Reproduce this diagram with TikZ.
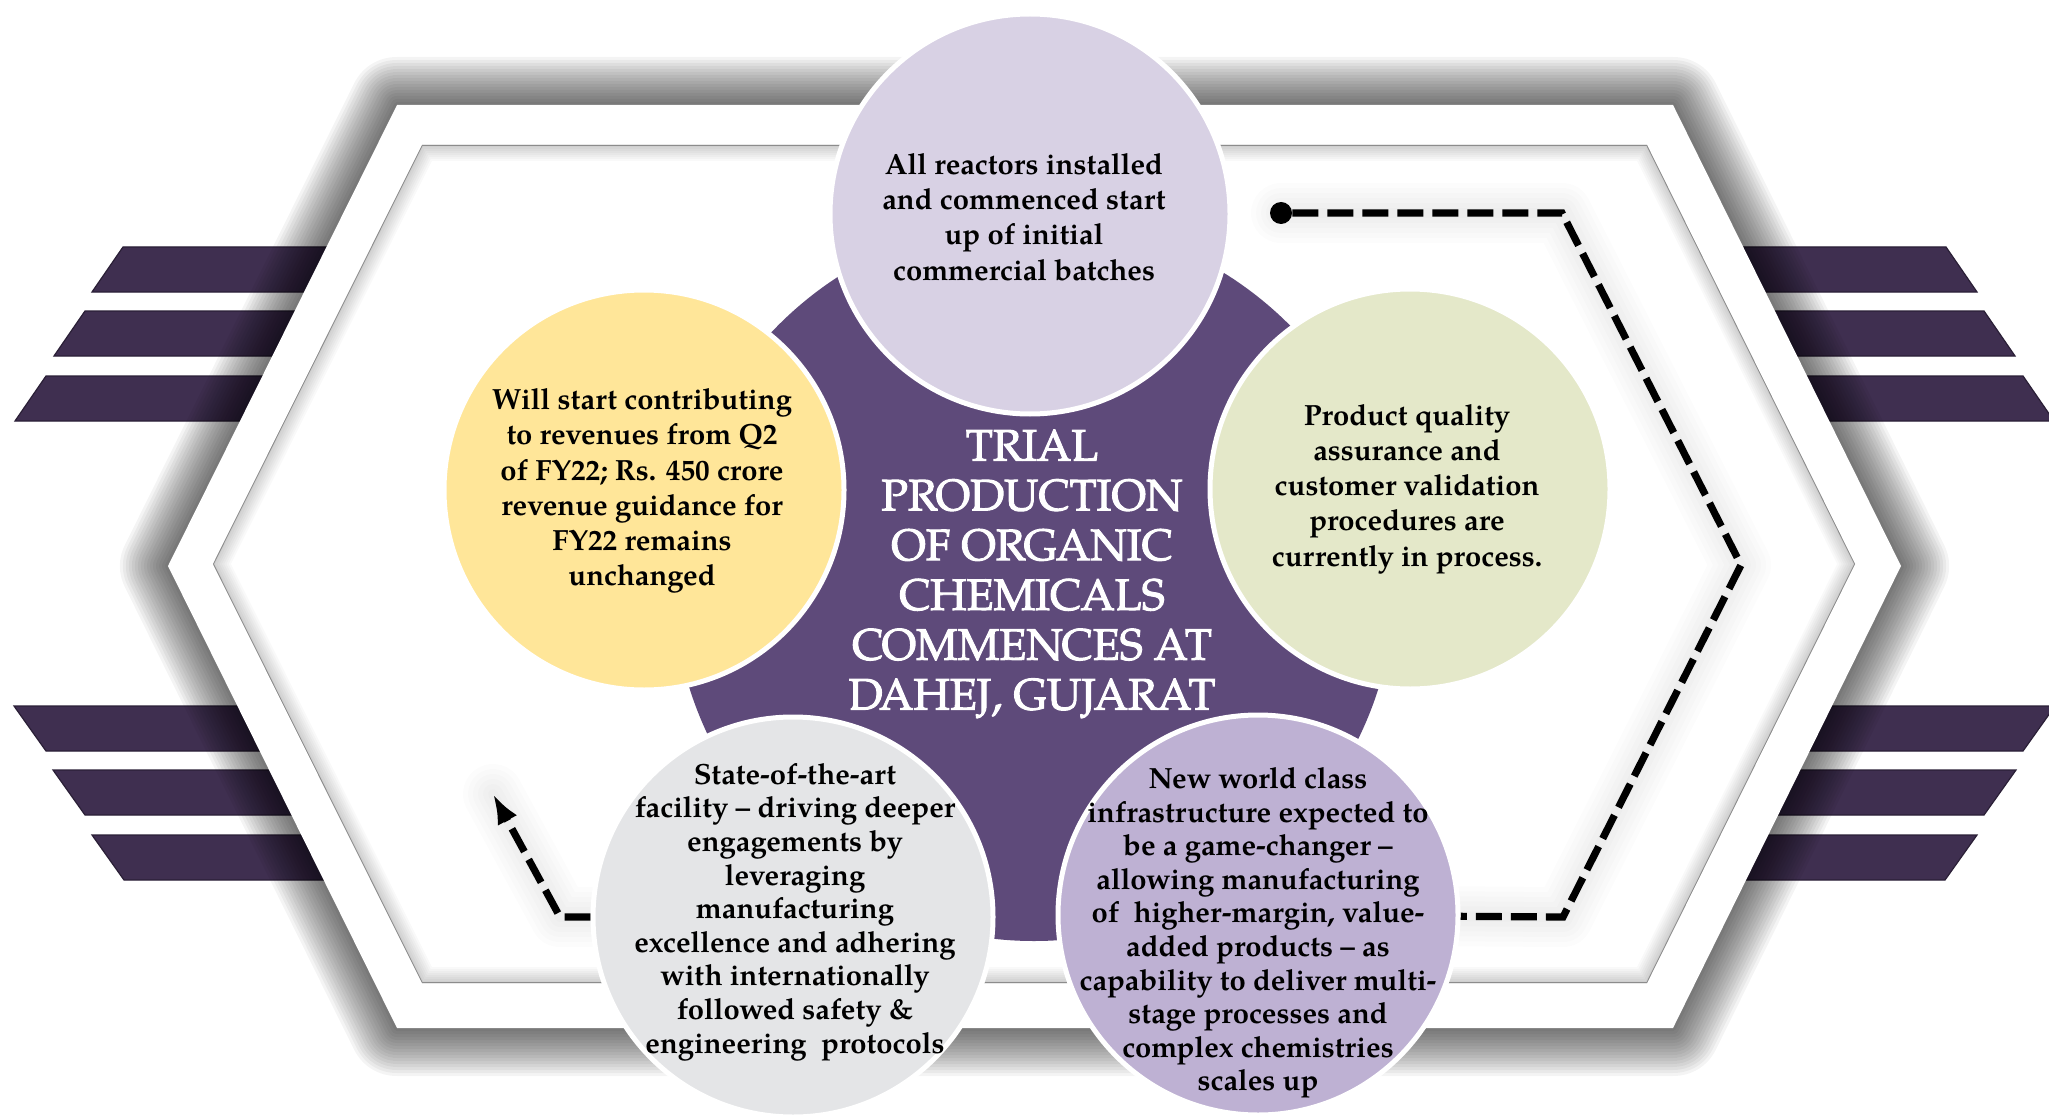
\documentclass[tikz,border=0pt]{standalone}
\usepackage{fontspec}
\setmainfont{TeX Gyre Pagella}
\newfontfamily\hubfont{TeX Gyre Pagella}[FakeBold=2.2]
\usetikzlibrary{arrows.meta}
\pgfdeclarelayer{bg}
\pgfdeclarelayer{mid}
\pgfsetlayers{bg,mid,main}
\definecolor{cpurple}{RGB}{94,74,122}
\definecolor{ctop}{RGB}{216,209,228}
\definecolor{cright}{RGB}{228,232,201}
\definecolor{cleft}{RGB}{255,230,153}
\definecolor{cbl}{RGB}{228,229,231}
\definecolor{cbr}{RGB}{190,177,211}
\definecolor{cstripe}{RGB}{63,47,80}
\definecolor{cstripeedge}{RGB}{42,31,54}
\tikzset{
  bubble/.style={circle, draw=white, line width=2.5pt, minimum size=200pt, inner sep=0pt},
  btext/.style={align=center, font=\bfseries\fontsize{14.6}{17.6}\selectfont, text=black, inner sep=0pt},
  btextt/.style={align=center, font=\bfseries\fontsize{14.6}{16.8}\selectfont, text=black, inner sep=0pt},
  hubtext/.style={align=center, font=\hubfont\fontsize{22}{24.9}\selectfont, text=white, inner sep=0pt},
  stripe/.style={fill=cstripe, draw=cstripeedge, line width=0.6pt},
  dashconn/.style={black, line width=3.6pt, dash pattern=on 13pt off 4.5pt},
  glow/.style={black, opacity=0.012, line join=round, line cap=round},
}
\begin{document}
\begin{tikzpicture}[x=0.5pt,y=-0.5pt]
\useasboundingbox (0,0) rectangle (2049,1118);

% ---------- nodes ----------
\node[circle, fill=cpurple, minimum size=361pt, inner sep=0pt] (hub) at (1034,580) {};
\node[hubtext] (hubt) at (1032,574) {TRIAL\\PRODUCTION\\OF ORGANIC\\CHEMICALS\\COMMENCES AT\\DAHEJ, GUJARAT};

\node[bubble, fill=ctop] (top) at (1030,214) {};
\node[btext] (topt) at (1024,217) {All reactors installed\\and commenced start\\up of initial\\commercial batches};

\node[bubble, fill=cleft] (left) at (644,490) {};
\node[btext] (leftt) at (642,491) {Will start contributing\\to revenues from Q2\\of FY22; Rs. 450 crore\\revenue guidance for\\FY22 remains\\unchanged};

\node[bubble, fill=cright] (right) at (1410,489) {};
\node[btext] (rightt) at (1407,489) {Product quality\\assurance and\\customer validation\\procedures are\\currently in process.};

\node[bubble, fill=cbl] (bl) at (793,917) {};
\node[btextt] (blt) at (795,912) {State-of-the-art\\facility – driving deeper\\engagements by\\leveraging\\manufacturing\\excellence and adhering\\with internationally\\followed safety \&\\engineering\ \ protocols};

\node[bubble, fill=cbr] (br) at (1258,915) {};
\node[btextt] (brt) at (1258,933) {New world class\\infrastructure expected to\\be a game-changer –\\allowing manufacturing\\of\ \ higher-margin, value-\\added products – as\\capability to deliver multi-\\stage processes and\\complex chemistries\\scales up};

\node[circle, fill=black, minimum size=11pt, inner sep=0pt] (dot) at (1281,213) {};
\coordinate (c1) at (1562,213);
\coordinate (c2) at (1741,565);
\coordinate (c3) at (1563,917);
\coordinate (c4) at (560,917);
\coordinate (tip) at (493,794);

% ---------- background frame ----------
\begin{pgfonlayer}{bg}
  \fill[white] (0,0) rectangle (2049,1118);
  % stripes
  \foreach \a/\t in {123/247, 85/311, 46/376}{
    \draw[stripe] (\a,\t) -- (400,\t) -- (400,\t+45) -- (\a-31,\t+45) -- cycle;
    \draw[stripe] (2069-\a,\t) -- (1669,\t) -- (1669,\t+45) -- (2069-\a+31,\t+45) -- cycle;
  }
  \foreach \a/\t in {14/706, 53/770, 92/835}{
    \draw[stripe] (\a,\t) -- (400,\t) -- (400,\t+45) -- (\a+32,\t+45) -- cycle;
    \draw[stripe] (2069-\a,\t) -- (1669,\t) -- (1669,\t+45) -- (2069-\a-32,\t+45) -- cycle;
  }
  % outer hexagon shadow
  \foreach \w in {3,6,...,48}{
    \draw[black, opacity=0.042, line width=\w pt, line join=round]
      (397,105) -- (1673,105) -- (1901,566) -- (1673,1028) -- (397,1028) -- (168,566) -- cycle;
  }
  \fill[white] (397,105) -- (1673,105) -- (1901,566) -- (1673,1028) -- (397,1028) -- (168,566) -- cycle;
  % inner hexagon inset shadow
  \begin{scope}
    \clip (422,145) -- (1647,145) -- (1855,564) -- (1647,983) -- (422,983) -- (213,564) -- cycle;
    \foreach \w in {2,4,...,16}{
      \draw[black, opacity=0.025, line width=\w pt]
        (422,145) -- (1647,145) -- (1855,564) -- (1647,983) -- (422,983) -- (213,564) -- cycle;
    }
    \draw[black!45, line width=0.8pt]
      (422,145) -- (1647,145) -- (1855,564) -- (1647,983) -- (422,983) -- (213,564) -- cycle;
  \end{scope}
\end{pgfonlayer}

% ---------- connectors ----------
\begin{pgfonlayer}{mid}
  \foreach \w in {5,10,...,30}{
    \draw[glow, line width=\w pt] (dot.center) -- (c1) -- (c2) -- (c3) -- (br.center);
    \draw[glow, line width=\w pt] (bl.center) -- (c4) -- (tip);
  }
  \draw[dashconn] (dot) -- (c1) -- (c2) -- (c3) -- (br);
  \draw[dashconn, -{Latex[length=15pt,width=11pt]}] (bl) -- (c4) -- (tip);
\end{pgfonlayer}
\end{tikzpicture}
\end{document}
